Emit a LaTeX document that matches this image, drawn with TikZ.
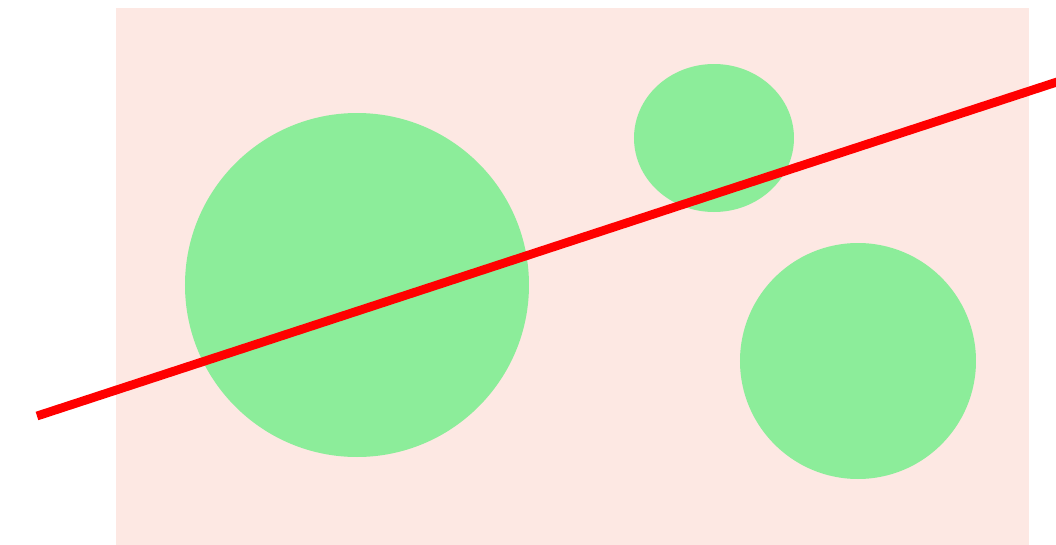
\documentclass[tikz,border=0pt]{standalone}
\definecolor{bgpink}{HTML}{FDE8E3}
\definecolor{blobgreen}{HTML}{8CED9A}
\definecolor{cutred}{HTML}{FF0000}
\begin{document}
\begin{tikzpicture}[x=0.01cm,y=-0.01cm]
\useasboundingbox (0,0) rectangle (1056,545);
\fill[bgpink] (116,8) rectangle (1029,545);

\fill[blobgreen] (357,285) circle (172);
\fill[blobgreen] (714,138) ellipse (80 and 74);
\fill[blobgreen] (858,361) circle (118);

\coordinate (start) at (37,416);
\coordinate (end) at (1060,81);
\draw[cutred,line width=0.088cm] (start) -- (end);
\end{tikzpicture}
\end{document}
